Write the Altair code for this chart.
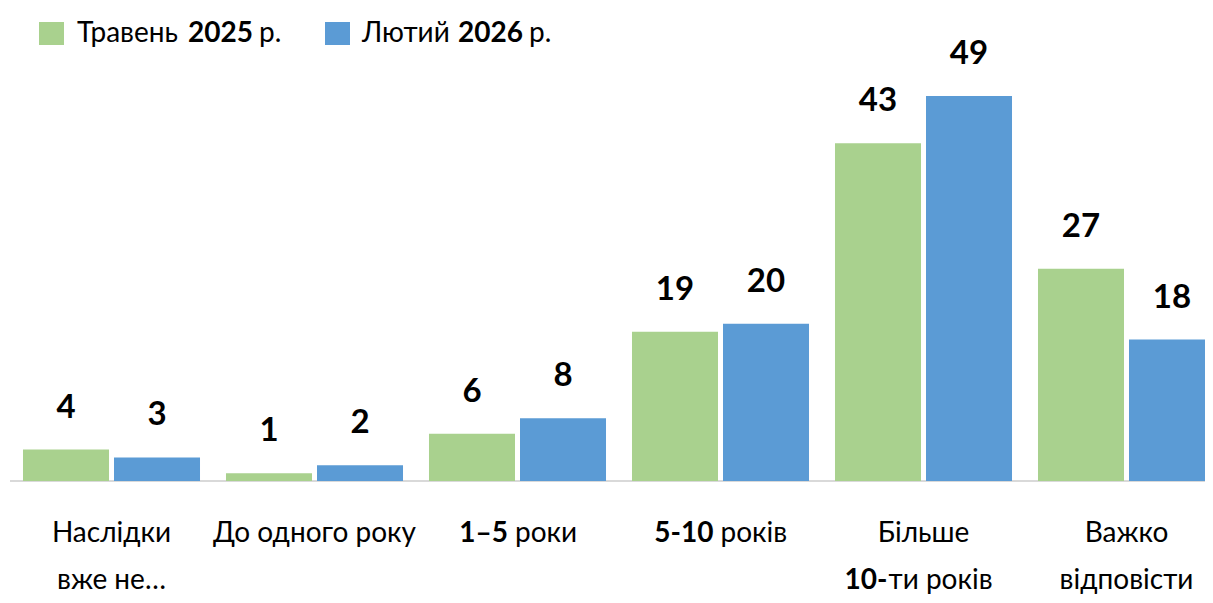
import re
import altair as alt
import pandas as pd

# ---- data ----
categories = ["Наслідки вже не…", "До одного року", "1–5 роки", "5-10 років",
              "Більше 10-ти років", "Важко відповісти"]
may_2025 = [4, 1, 6, 19, 43, 27]
feb_2026 = [3, 2, 8, 20, 49, 18]
series = ["Травень 2025 р.", "Лютий 2026 р."]
# category labels as shown (lines; **bold** parts)
label_lines = [
    ["Наслідки", "вже не…"],
    ["До одного року"],
    ["**1–5** роки"],
    ["**5-10** років"],
    ["Більше", "**10-**ти років"],
    ["Важко", "відповісти"],
]

# ---- styles / layout ----
colors = ["#a9d18e", "#5b9bd5"]
FONT = "Lato"
W, H = 1195, 473
split_dx = {  # (end of bold part, start of regular part) relative to band centre
    "**1–5** роки": (-9.5, -2.5),
    "**5-10** років": (-7, 0),
    "**10-**ти років": (-36, -35),
}
line_y = [534, 581]
legend_rect_x = [29, 315]
legend_text_x = [[67, 178, 249], [352, 448, 519]]

rows = []
for c, a, b in zip(categories, may_2025, feb_2026):
    rows.append({"cat": c, "series": series[0], "value": a})
    rows.append({"cat": c, "series": series[1], "value": b})
df = pd.DataFrame(rows)

xscale = alt.Scale(domain=categories, range=[0, 1218], paddingInner=0.128, paddingOuter=0.064)
yscale = alt.Scale(domain=[0, 60.2], nice=False, zero=True)
X = alt.X("cat:N", scale=xscale, axis=None, title=None)
XO = alt.XOffset("series:N", scale=alt.Scale(domain=series, paddingInner=0.055, paddingOuter=0))
Y = alt.Y("value:Q", scale=yscale, axis=None, title=None)

base = alt.Chart(df)

rule = alt.Chart(pd.DataFrame({"v": [0]})).mark_rule(color="#d9d9d9", strokeWidth=2).encode(
    y=alt.Y("v:Q", scale=yscale, axis=None)
)

bars = base.mark_bar(clip=True).encode(
    x=X, xOffset=XO, y=Y,
    color=alt.Color("series:N", scale=alt.Scale(domain=series, range=colors), legend=None),
)

values = base.mark_text(
    baseline="alphabetic", dy=-32, font=FONT, fontWeight="bold", fontSize=33, color="black"
).encode(x=X, xOffset=XO, y=Y, text="value:Q")

layers = [rule, bars, values]


def parse(line):
    parts = re.split(r"\*\*(.+?)\*\*", line)
    segs = []
    for i, p in enumerate(parts):
        p = p.strip()
        if p:
            segs.append((p, i % 2 == 1))
    return segs


for cat, lines in zip(categories, label_lines):
    for li, line in enumerate(lines):
        segs = parse(line)
        d = pd.DataFrame({"cat": [cat]})
        if len(segs) == 1:
            t, bold = segs[0]
            layers.append(
                alt.Chart(d).mark_text(
                    align="center", baseline="alphabetic", font=FONT, fontSize=28,
                    fontWeight="bold" if bold else "normal", color="black"
                ).encode(x=X, y=alt.value(line_y[li]), text=alt.value(t))
            )
        else:
            dl, dr = split_dx[line]
            for (t, bold), al, dx in zip(segs, ["right", "left"], [dl, dr]):
                layers.append(
                    alt.Chart(d).mark_text(
                        align=al, dx=dx, baseline="alphabetic", font=FONT, fontSize=28,
                        fontWeight="bold" if bold else "normal", color="black"
                    ).encode(x=X, y=alt.value(line_y[li]), text=alt.value(t))
                )

# legend
for i, name in enumerate(series):
    d = pd.DataFrame({"s": [name]})
    layers.append(
        alt.Chart(d).mark_rect(color=colors[i]).encode(
            x=alt.value(legend_rect_x[i]), x2=alt.value(legend_rect_x[i] + 25),
            y=alt.value(14), y2=alt.value(37)
        )
    )
    parts = [p for p in re.split(r"(\d+)", name)]
    for j, p in enumerate(parts):
        p = p.strip()
        layers.append(
            alt.Chart(d).mark_text(
                align="left", baseline="alphabetic", font=FONT, fontSize=28,
                fontWeight="bold" if re.fullmatch(r"\d+", p) else "normal", color="black"
            ).encode(x=alt.value(legend_text_x[i][j]), y=alt.value(34), text=alt.value(p))
        )

chart = alt.layer(*layers).properties(
    width=W, height=H,
    autosize=alt.AutoSizeParams(type="none"),
    padding={"left": 2, "top": 0, "right": 0, "bottom": 114},
).configure_view(strokeWidth=0)

chart.save("out.html", embed_options={"renderer": "svg", "actions": False})
